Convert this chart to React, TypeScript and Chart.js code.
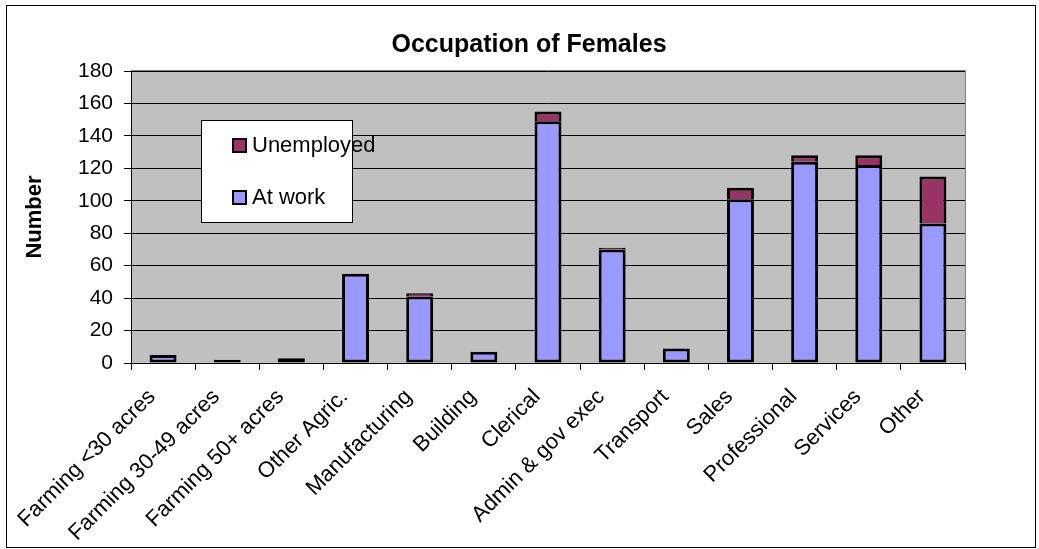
import React, { useEffect, useRef } from "react";
import { Chart, registerables } from "chart.js";

Chart.register(...registerables);

const FONT = "'Liberation Sans', Arial, sans-serif";

const chartTitle = "Occupation of Females";
const yAxisTitle = "Number";
const categories = [
  "Farming <30 acres",
  "Farming 30-49 acres",
  "Farming 50+ acres",
  "Other Agric.",
  "Manufacturing",
  "Building",
  "Clerical",
  "Admin & gov exec",
  "Transport",
  "Sales",
  "Professional",
  "Services",
  "Other",
];
const atWork = [5, 2, 3, 55, 41, 7, 149, 70, 9, 101, 124, 122, 86];
const unemployed = [0, 0, 0, 0, 2, 0, 6, 1, 0, 7, 4, 6, 29];
const yMin = 0;
const yMax = 180;
const yStep = 20;

const AT_WORK_COLOR = "#9999FF";
const UNEMPLOYED_COLOR = "#993366";

const framePlugin = {
  id: "frame",
  beforeDraw(chart: any) {
    const { ctx, width, height, chartArea } = chart;
    ctx.save();
    ctx.fillStyle = "#ffffff";
    ctx.fillRect(0, 0, width, height);
    ctx.strokeStyle = "#000000";
    ctx.lineWidth = 1;
    ctx.strokeRect(6.5, 5.5, 1029, 542);
    ctx.fillStyle = "#C0C0C0";
    ctx.fillRect(chartArea.left, chartArea.top, chartArea.right - chartArea.left, chartArea.bottom - chartArea.top);
    ctx.restore();
  },
  afterDraw(chart: any) {
    const { ctx, chartArea } = chart;
    ctx.save();
    // plot area border (top / right), grey
    ctx.strokeStyle = "#808080";
    ctx.lineWidth = 1;
    ctx.beginPath();
    ctx.moveTo(chartArea.left, chartArea.top - 0.5);
    ctx.lineTo(chartArea.right + 0.5, chartArea.top - 0.5);
    ctx.lineTo(chartArea.right + 0.5, chartArea.bottom);
    ctx.stroke();
    // title
    ctx.fillStyle = "#000000";
    ctx.font = `bold 25px ${FONT}`;
    ctx.textAlign = "center";
    ctx.textBaseline = "alphabetic";
    ctx.fillText(chartTitle, 529, 52);
    // legend box
    const bx = chartArea.left + 70;
    const by = chartArea.top + 49;
    const bw = 151;
    const bh = 102;
    ctx.fillStyle = "#ffffff";
    ctx.fillRect(bx, by, bw, bh);
    ctx.strokeStyle = "#000000";
    ctx.strokeRect(bx + 0.5, by + 0.5, bw, bh);
    const items = [...chart.data.datasets].reverse();
    items.forEach((ds: any, i: number) => {
      const cy = by + 25 + i * 52;
      const sx = bx + 31;
      ctx.fillStyle = ds.backgroundColor;
      ctx.fillRect(sx, cy - 7, 15, 15);
      ctx.lineWidth = 2;
      ctx.strokeStyle = "#000000";
      ctx.strokeRect(sx + 1, cy - 6, 13, 13);
      ctx.fillStyle = "#000000";
      ctx.font = `22px ${FONT}`;
      ctx.textAlign = "left";
      ctx.textBaseline = "middle";
      ctx.fillText(ds.label, sx + 20, cy + 1);
    });
    ctx.restore();
  },
};

export default function App() {
  const canvasRef = useRef<HTMLCanvasElement | null>(null);

  useEffect(() => {
    if (!canvasRef.current) return;
    const chart = new Chart(canvasRef.current, {
      type: "bar",
      data: {
        labels: categories,
        datasets: [
          {
            label: "At work",
            data: atWork,
            backgroundColor: AT_WORK_COLOR,
            borderColor: "#000000",
            borderWidth: 3,
            borderSkipped: false,
            barPercentage: 0.42,
            categoryPercentage: 1,
          },
          {
            label: "Unemployed",
            data: unemployed,
            backgroundColor: UNEMPLOYED_COLOR,
            borderColor: "#000000",
            borderWidth: 3,
            barPercentage: 0.42,
            categoryPercentage: 1,
          },
        ],
      },
      options: {
        responsive: false,
        animation: false,
        layout: { padding: { top: 71, right: 74, left: 0, bottom: 0 } },
        plugins: {
          legend: { display: false },
          title: { display: false },
          tooltip: { enabled: false },
        },
        scales: {
          x: {
            stacked: true,
            grid: {
              offset: true,
              drawOnChartArea: false,
              drawTicks: true,
              tickLength: 7,
              color: "#000000",
              lineWidth: 1,
            },
            border: { color: "#000000", width: 1 },
            ticks: {
              font: { family: FONT, size: 22 },
              color: "#000000",
              minRotation: 45,
              maxRotation: 45,
              autoSkip: false,
              padding: 14,
              labelOffset: -11,
            },
            afterFit(scale: any) {
              scale.height = 186;
              scale.paddingLeft = 0;
              scale.paddingRight = 0;
            },
          },
          y: {
            stacked: true,
            min: yMin,
            max: yMax,
            ticks: {
              stepSize: yStep,
              font: { family: FONT, size: 21 },
              color: "#000000",
              padding: 11,
            },
            grid: { color: "#000000", tickLength: 7, lineWidth: 1 },
            border: { color: "#000000", width: 1 },
            title: {
              display: true,
              text: yAxisTitle,
              font: { family: FONT, size: 22, weight: "bold" },
              color: "#000000",
              padding: { top: 22, bottom: 0 },
            },
            afterFit(scale: any) {
              scale.width = 131;
            },
          },
        },
      },
      plugins: [framePlugin],
    });
    return () => chart.destroy();
  }, []);

  return (
    <div style={{ position: "absolute", left: 0, top: 0, width: 1039, height: 549 }}>
      <canvas ref={canvasRef} width={1039} height={549} />
    </div>
  );
}
